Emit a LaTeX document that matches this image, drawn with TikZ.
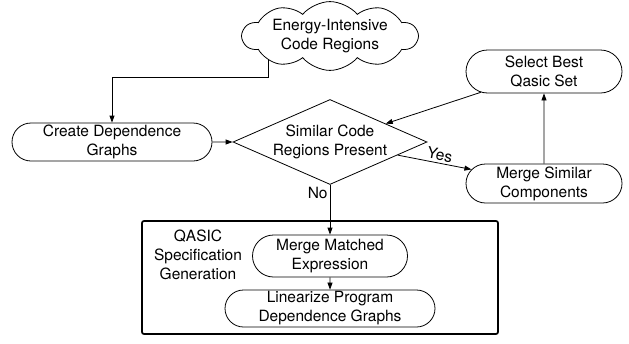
\documentclass[tikz,border=0pt]{standalone}
\usepackage{fontspec}
\setmainfont{TeX Gyre Heros}
\usetikzlibrary{shapes.geometric,shapes.symbols,shapes.misc,arrows.meta}
\begin{document}
\begin{tikzpicture}[x=1pt,y=-1pt,
  every node/.style={font=\fontsize{15.5}{19}\selectfont, align=center},
  pill/.style={draw, rounded rectangle, inner sep=0pt, line width=0.8pt},
  arr/.style={-{Triangle[length=7pt,width=5pt]}, line width=0.8pt},
  lbl/.style={inner sep=2pt}]
\useasboundingbox (0,0) rectangle (629,343);

% frame of the specification stage
\node[draw, line width=1.7pt, rounded corners=2pt, minimum width=356pt, minimum height=113pt, inner sep=0pt] (frame) at (320,277.5) {};

\node[draw, cloud, cloud puffs=10, cloud puff arc=100, cloud ignores aspect, minimum width=175pt, minimum height=68pt, inner sep=0pt, line width=0.8pt] (cld) at (330,36) {Energy-Intensive\\Code Regions};

\node[pill, minimum width=200pt, minimum height=38pt] (cdg) at (112,142) {Create Dependence\\Graphs};

\node[draw, diamond, aspect=2.28, minimum width=194pt, minimum height=85pt, inner sep=0pt, line width=0.8pt] (dia) at (330,142) {Similar Code\\Regions Present};

\node[pill, minimum width=156pt, minimum height=43pt] (sel) at (544,71.5) {Select Best\\Qasic Set};

\node[pill, minimum width=156pt, minimum height=39pt] (msc) at (544,183.5) {Merge Similar\\Components};

\node[pill, minimum width=155pt, minimum height=42pt] (mme) at (330,256) {Merge Matched\\Expression};

\node[pill, minimum width=210pt, minimum height=37pt] (lin) at (330,308.5) {Linearize Program\\Dependence Graphs};

\node (qs) at (198,255) {QASIC\\Specification\\Generation};

\coordinate (turn) at (0,77);
\draw[arr] (cld.south west) -- (cld.south west |- turn) -| (cdg.north);
\draw[arr] (cdg) -- (dia);
\draw[arr] (dia) -- node[lbl, pos=0.55, above, sloped] {Yes} (msc);
\draw[arr] (msc) -- (sel);
\draw[arr] (sel) -- (dia);
\draw[arr] (dia.south) -- node[lbl, pos=0.16, left] {No} (mme.north);
\draw[arr] (mme) -- (lin);
\end{tikzpicture}
\end{document}
